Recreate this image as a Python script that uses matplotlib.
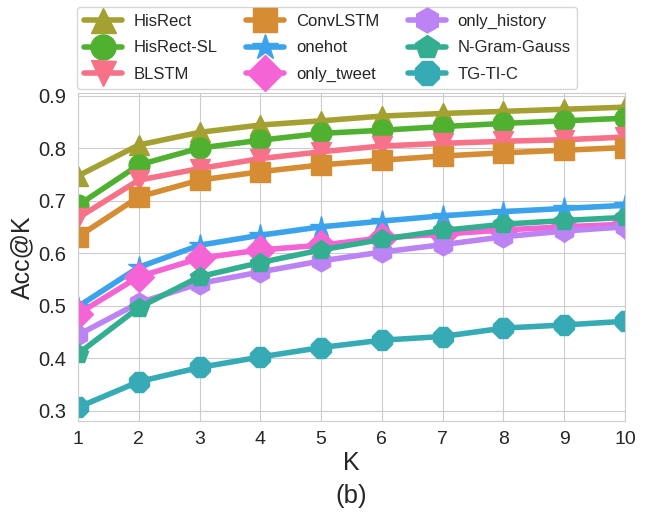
import matplotlib
matplotlib.use("Agg")
import matplotlib.pyplot as plt
import seaborn as sns

K = [1, 2, 3, 4, 5, 6, 7, 8, 9, 10]
names = ["HisRect", "HisRect-SL", "BLSTM", "ConvLSTM", "onehot",
         "only_tweet", "only_history", "N-Gram-Gauss", "TG-TI-C"]
hisrect      = [0.747, 0.806, 0.830, 0.844, 0.852, 0.861, 0.866, 0.870, 0.874, 0.878]
hisrect_sl   = [0.691, 0.768, 0.800, 0.815, 0.828, 0.834, 0.841, 0.847, 0.852, 0.857]
blstm        = [0.667, 0.739, 0.761, 0.780, 0.793, 0.804, 0.809, 0.813, 0.816, 0.821]
convlstm     = [0.631, 0.707, 0.739, 0.755, 0.768, 0.777, 0.785, 0.791, 0.796, 0.801]
onehot       = [0.498, 0.573, 0.615, 0.634, 0.650, 0.661, 0.671, 0.679, 0.685, 0.691]
only_tweet   = [0.484, 0.555, 0.590, 0.606, 0.615, 0.629, 0.636, 0.644, 0.650, 0.655]
only_history = [0.444, 0.505, 0.542, 0.564, 0.585, 0.602, 0.616, 0.631, 0.642, 0.650]
ngram        = [0.408, 0.496, 0.555, 0.582, 0.606, 0.626, 0.643, 0.655, 0.662, 0.668]
tgtic        = [0.306, 0.355, 0.382, 0.402, 0.420, 0.434, 0.441, 0.457, 0.463, 0.470]
series = [hisrect, hisrect_sl, blstm, convlstm, onehot, only_tweet, only_history, ngram, tgtic]

sns.set_style("whitegrid")
plt.rcParams['font.family'] = ['Liberation Sans', 'DejaVu Sans']

pal = sns.color_palette("husl", 9)
colors = [pal[2], pal[3], pal[0], pal[1], pal[6], pal[8], pal[7], pal[4], pal[5]]
markers = ['^', 'o', 'v', 's', '*', 'D', 'h', 'p', '8']
msizes = [15, 15, 15, 14, 16, 15, 15, 15, 15]

fig = plt.figure(figsize=(6.49, 5.16), dpi=100)
ax = fig.add_axes([78/649, 1-421/516, (625-78)/649, (421-93)/516])

for name, vals, c, m, ms in zip(names, series, colors, markers, msizes):
    ax.plot(K, vals, color=c, marker=m, markersize=ms, linewidth=4, label=name)

ax.set_xlim(1, 10)
ax.set_ylim(0.28, 0.905)
ax.set_xticks(K)
ax.set_yticks([0.3, 0.4, 0.5, 0.6, 0.7, 0.8, 0.9])
ax.tick_params(axis='x', labelsize=14, pad=4, colors='#262626')
ax.tick_params(axis='y', labelsize=14.5, pad=5, colors='#262626')
ax.set_xlabel("K", fontsize=18, color='#262626', labelpad=2)
ax.set_ylabel("Acc@K", fontsize=18, color='#262626', labelpad=3)

handles, labels = ax.get_legend_handles_labels()
leg = fig.legend(handles, labels, loc='upper left', bbox_to_anchor=(77/649, 1-7/516),
                 ncol=3, fontsize=12, frameon=True, handlelength=2.3, markerscale=1.2,
                 columnspacing=1.7, labelspacing=0.7, borderpad=0.4, handletextpad=0.7,
                 borderaxespad=0)

fig.text((78+625)/2/649, 1-496/516, "(b)", ha='center', va='center', fontsize=18.5, color='#262626')

fig.savefig("out.png", dpi=100)
